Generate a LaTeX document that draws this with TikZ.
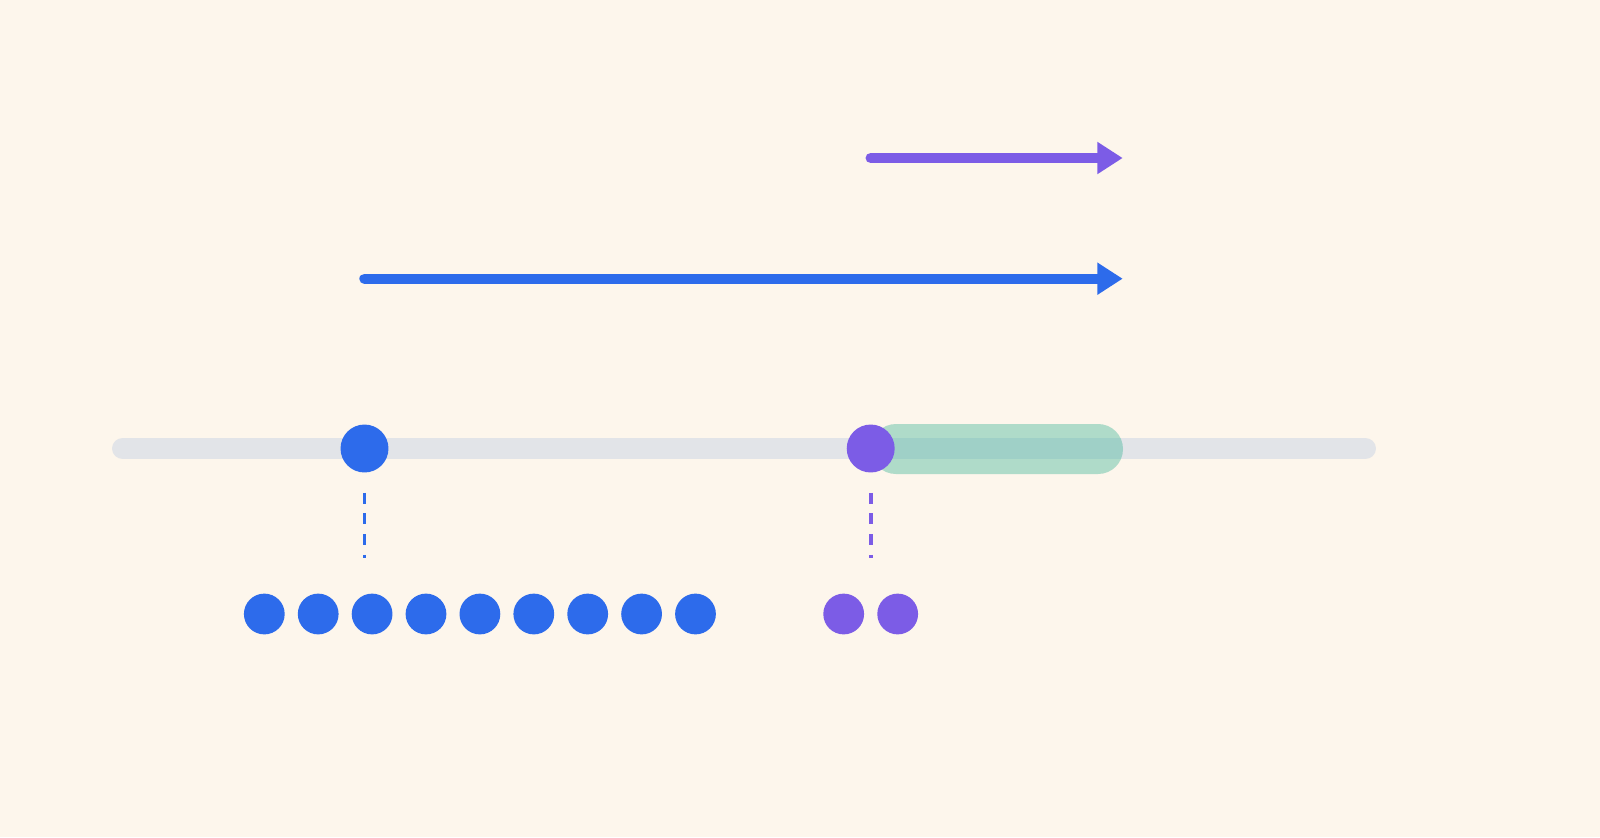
\documentclass[tikz,border=0pt]{standalone}
\usetikzlibrary{arrows.meta}
\definecolor{paper}{HTML}{FDF6EC}
\definecolor{trackgray}{HTML}{E2E4E8}
\definecolor{dotblue}{HTML}{2D6BEB}
\definecolor{dotpurple}{HTML}{7C5CE6}
\definecolor{bandgreen}{RGB}{60,180,150}
\begin{document}
\begin{tikzpicture}[x=0.025cm,y=-0.025cm,
        bigdot/.style={circle,inner sep=0pt,minimum size=34.1pt},
        smalldot/.style={circle,inner sep=0pt,minimum size=29pt},
        movearrow/.style={line width=7.4pt,line cap=round,
            -{Triangle[length=18.1pt,width=21.8pt]}},
        guide/.style={line width=2.7pt,dash pattern=on 7.8pt off 6.9pt}]
            \fill [paper] (0,0) rectangle (1600,837);
            \useasboundingbox (0,0) rectangle (1600,837);

            % track and selected range
            \draw [trackgray,line width=15.6pt,line cap=round] (123,448.5) -- (1365,448.5);
            \fill [bandgreen,opacity=0.4,rounded corners=17.7pt] (871,424) rectangle (1123,474);

            \node [bigdot,fill=dotblue] (blueknob) at (364.5,448.5) {};
            \node [bigdot,fill=dotpurple] (purpleknob) at (870.7,448.5) {};

            % guides down to the items
            \draw [guide,dotblue] (blueknob.south) ++(0,20) -- ++(0,65);
            \draw [guide,dotpurple] (purpleknob.south) ++(0,20) -- ++(0,65);

            \foreach \i in {1,...,9}
                \node [smalldot,fill=dotblue] (b\i) at (264.3+53.9*\i-53.9,614) {};
            \foreach \i in {1,2}
                \node [smalldot,fill=dotpurple] (p\i) at (843.7+54*\i-54,614) {};

            % offsets
            \coordinate (bluestart) at (364.5,278.7);
            \coordinate (bluetip) at (1122.7,278.7);
            \coordinate (purplestart) at (870.7,158);
            \coordinate (purpletip) at (1122.7,158);
            \draw [movearrow,dotblue] (bluestart) -- (bluetip);
            \draw [movearrow,dotpurple] (purplestart) -- (purpletip);
        \end{tikzpicture}
\end{document}
